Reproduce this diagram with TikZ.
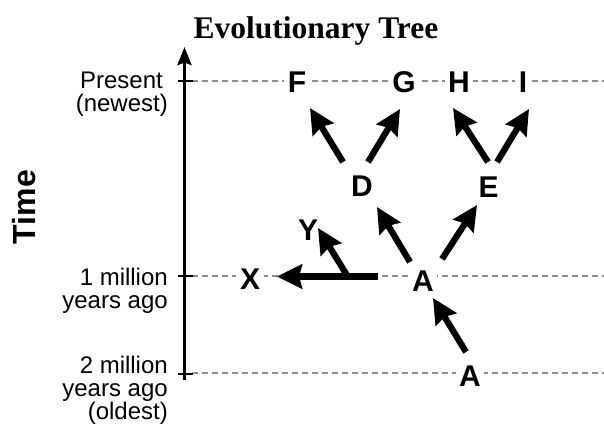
\documentclass[tikz,border=0pt]{standalone}
\usepackage{fontspec}
\setmainfont{Liberation Sans}
\newfontfamily\titlefont{Liberation Serif}
\usetikzlibrary{arrows.meta,calc}
\begin{document}
\begin{tikzpicture}[x=1pt,y=-1pt,
  letter/.style={font=\fontsize{30}{30}\selectfont\bfseries, fill=white, inner sep=3.5pt},
  lbl/.style={font=\fontsize{24}{24}\selectfont, anchor=base east, inner sep=0pt},
  guide/.style={draw=black!45, line width=1.3pt, dash pattern=on 6pt off 4pt},
  tickmark/.style={line width=1.6pt},
  evo/.style={line width=6.3pt, -{Stealth[length=25pt,width=24pt,inset=3pt]}},
]
\useasboundingbox (0,0) rectangle (604,426);

% title
\node[font=\titlefont\bfseries\fontsize{31.5}{31.5}\selectfont, anchor=base, inner sep=0pt] (title) at (316,38.5) {Evolutionary Tree};

% axis title
\node[font=\fontsize{32}{32}\selectfont\bfseries, rotate=90, inner sep=0pt] (time) at (24,207) {Time};

% guide lines
\coordinate (g0a) at (192,81);  \coordinate (g0b) at (604,81);
\coordinate (g1a) at (192,276); \coordinate (g1b) at (604,276);
\coordinate (g2a) at (192,373); \coordinate (g2b) at (604,373);
\draw[guide] (g0a) -- (g0b);
\draw[guide] (g1a) -- (g1b);
\draw[guide] (g2a) -- (g2b);

% axis
\coordinate (axb) at (184.5,380);
\coordinate (axt) at (184.5,47);
\draw[line width=3.2pt, -{Stealth[length=18pt,width=14pt,inset=2.5pt]}] (axb) -- (axt);
\coordinate (t0a) at (178,81);  \coordinate (t0b) at (193,81);
\coordinate (t1a) at (178,276); \coordinate (t1b) at (193,276);
\coordinate (t2a) at (178,374); \coordinate (t2b) at (193,374);
\draw[tickmark] (t0a) -- (t0b);
\draw[tickmark] (t1a) -- (t1b);
\draw[tickmark] (t2a) -- (t2b);

% axis labels
\node[lbl] (l0a) at (163,88.5) {Present};
\node[lbl] (l0b) at (168,111) {(newest)};
\node[lbl] (l1a) at (168,285) {1 million};
\node[lbl] (l1b) at (168,308) {years ago};
\node[lbl] (l2a) at (168,373) {2 million};
\node[lbl] (l2b) at (168,396.5) {years ago};
\node[lbl] (l2c) at (168,419.5) {(oldest)};

% species
\node[letter] (F) at (297,82.5) {F};
\node[letter] (G) at (404,82) {G};
\node[letter] (H) at (459,82) {H};
\node[letter] (I) at (523,82) {I};
\node[letter] (D) at (362,186) {D};
\node[letter] (E) at (488.5,187) {E};
\node[letter] (Y) at (308,230) {Y};
\node[letter] (X) at (250,279.5) {X};
\node[letter] (A1) at (423,281) {A};
\node[letter] (A0) at (470,376) {A};

% arrows
\draw[evo] ($(D)+(-19,-24)$) -- ($(F)+(13,25.5)$);
\draw[evo] ($(D)+(6,-24)$) -- ($(G)+(-4,27)$);
\draw[evo] ($(E)+(-0.5,-25)$) -- ($(H)+(-6,26)$);
\draw[evo] ($(E)+(8.5,-25)$) -- ($(I)+(6,27)$);
\draw[evo] ($(A1)+(-13,-19)$) -- ($(D)+(15,21)$);
\draw[evo] ($(A1)+(19,-22)$) -- ($(E)+(-11.5,18)$);
\draw[evo] ($(A0)+(-4,-24)$) -- ($(A1)+(10,17)$);
\draw[evo] ($(A1)+(-45,-4.5)$) -- ($(X)+(27,-3)$);
\coordinate (fork) at (348,277);
\draw[evo] (fork) -- ($(Y)+(10,-2)$);
\end{tikzpicture}
\end{document}
